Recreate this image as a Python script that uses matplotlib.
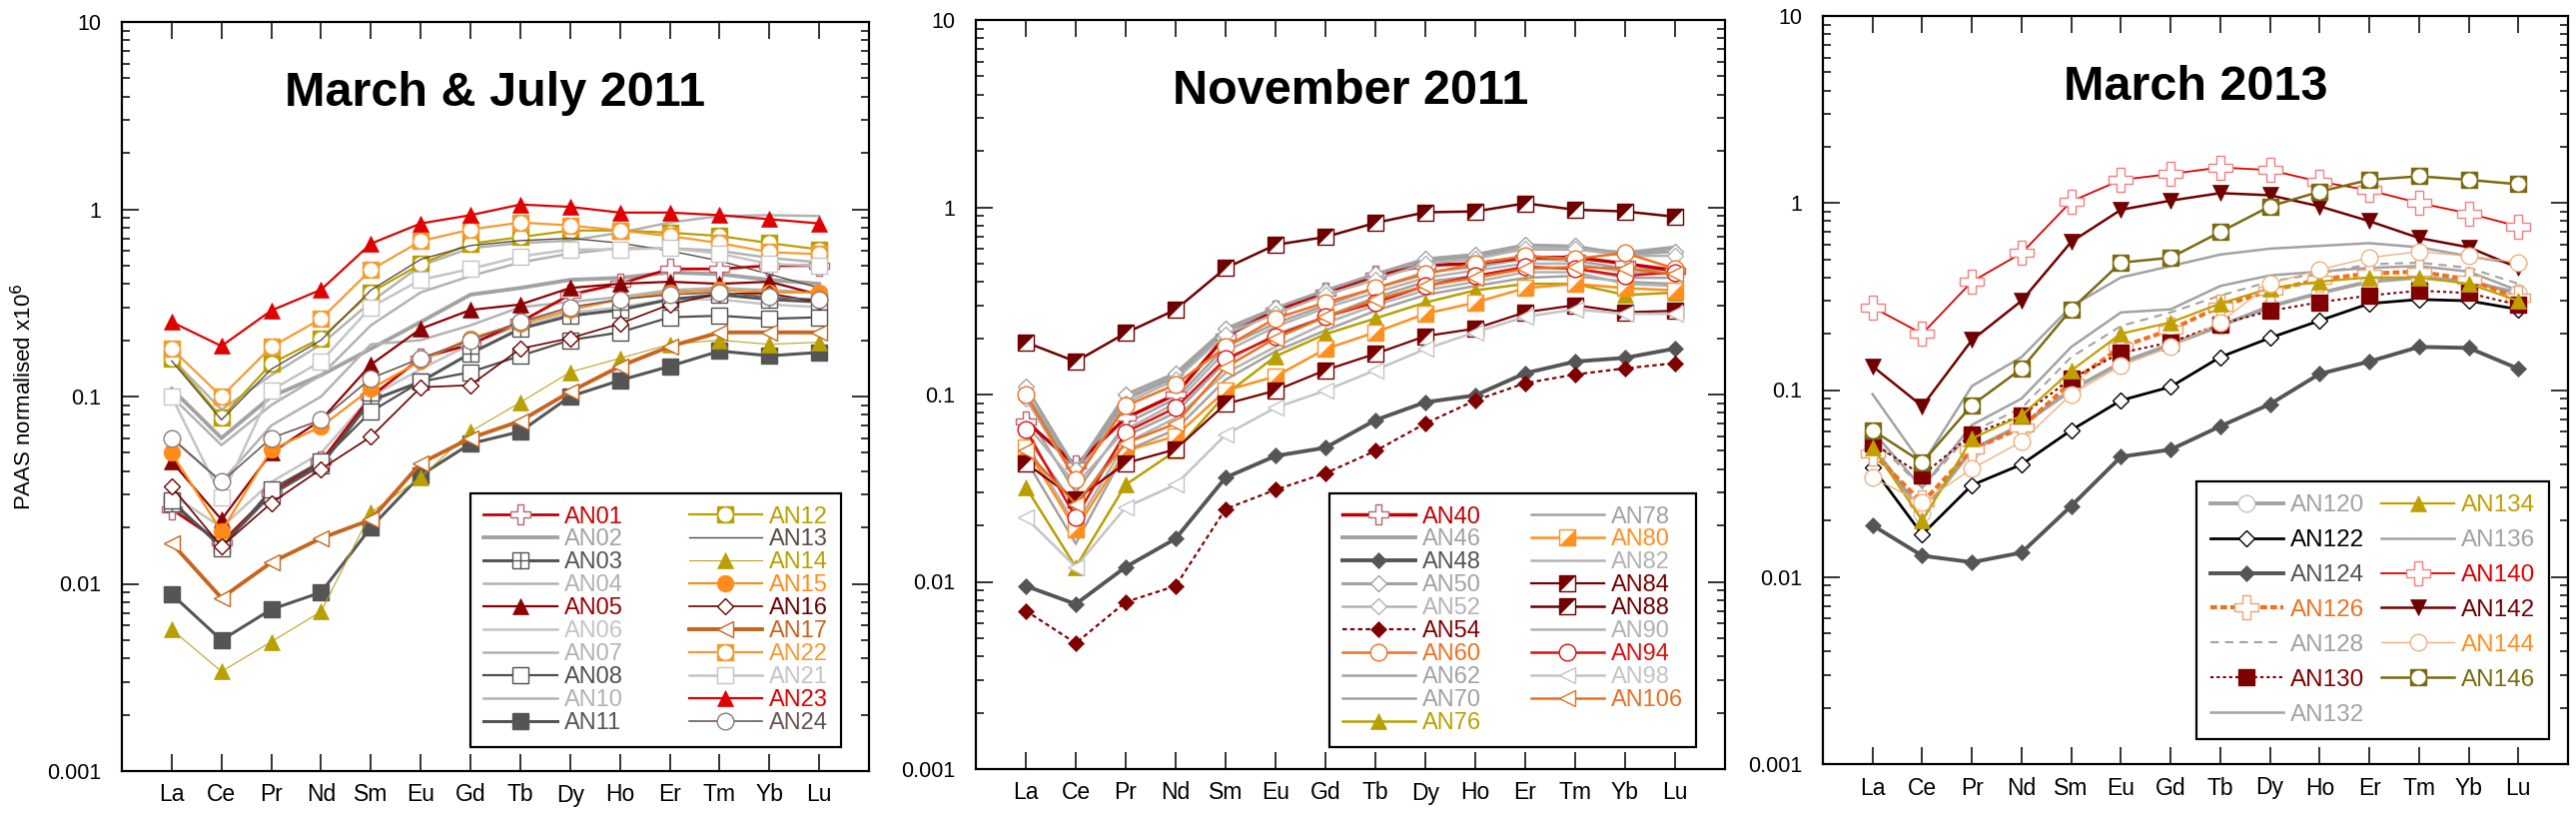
import numpy as np
import matplotlib
matplotlib.use("Agg")
import matplotlib.pyplot as plt
from matplotlib.ticker import FixedLocator, FixedFormatter, LogLocator, NullFormatter, NullLocator

plt.rcParams['font.family'] = ['Liberation Sans', 'DejaVu Sans']
plt.rcParams['axes.linewidth'] = 1.6

pierwiastki = ["La", "Ce", "Pr", "Nd", "Sm", "Eu", "Gd", "Tb", "Dy", "Ho", "Er", "Tm", "Yb", "Lu"]
tytuly = ["March & July 2011", "November 2011", "March 2013"]
os_y_wartosci = [0.001, 0.01, 0.1, 1, 10]
os_y_etykiety = ["0.001", "0.01", "0.1", "1", "10"]

# --- March & July 2011 ---
AN01 = [0.025, 0.0166, 0.0305, 0.045, 0.10, 0.16, 0.19, 0.25, 0.35, 0.40, 0.48, 0.48, 0.50, 0.50]
AN02 = [0.11, 0.06, 0.10, 0.13, 0.18, 0.25, 0.35, 0.38, 0.42, 0.43, 0.46, 0.45, 0.42, 0.40]
AN03 = [0.027, 0.016, 0.030, 0.043, 0.095, 0.12, 0.17, 0.23, 0.27, 0.29, 0.33, 0.35, 0.33, 0.32]
AN04 = [0.060, 0.035, 0.070, 0.10, 0.19, 0.20, 0.24, 0.30, 0.32, 0.34, 0.37, 0.38, 0.37, 0.36]
AN05 = [0.045, 0.022, 0.050, 0.075, 0.148, 0.23, 0.29, 0.31, 0.38, 0.40, 0.41, 0.40, 0.41, 0.35]
AN06 = [0.030, 0.020, 0.035, 0.050, 0.10, 0.14, 0.19, 0.24, 0.28, 0.30, 0.33, 0.33, 0.31, 0.30]
AN07 = [0.16, 0.085, 0.13, 0.19, 0.32, 0.50, 0.62, 0.66, 0.68, 0.75, 0.85, 0.92, 0.93, 0.92]
AN08 = [0.028, 0.0155, 0.032, 0.045, 0.083, 0.12, 0.135, 0.165, 0.20, 0.22, 0.265, 0.27, 0.26, 0.265]
AN10 = [0.10, 0.055, 0.09, 0.13, 0.24, 0.36, 0.44, 0.52, 0.58, 0.62, 0.62, 0.60, 0.55, 0.52]
AN11 = [0.0088, 0.0050, 0.0073, 0.0090, 0.020, 0.038, 0.056, 0.065, 0.10, 0.122, 0.145, 0.175, 0.165, 0.172]
AN12 = [0.159, 0.077, 0.150, 0.205, 0.36, 0.51, 0.655, 0.71, 0.77, 0.77, 0.75, 0.72, 0.66, 0.61]
AN13 = [0.155, 0.075, 0.14, 0.20, 0.37, 0.54, 0.64, 0.68, 0.70, 0.66, 0.60, 0.53, 0.45, 0.38]
AN14 = [0.0057, 0.0034, 0.0049, 0.0071, 0.024, 0.037, 0.065, 0.093, 0.135, 0.16, 0.19, 0.20, 0.19, 0.195]
AN15 = [0.050, 0.019, 0.052, 0.069, 0.11, 0.155, 0.205, 0.245, 0.29, 0.33, 0.36, 0.37, 0.36, 0.36]
AN16 = [0.033, 0.0158, 0.027, 0.041, 0.061, 0.112, 0.115, 0.18, 0.205, 0.245, 0.31, 0.355, 0.355, 0.32]
AN17 = [0.0165, 0.0084, 0.013, 0.0175, 0.022, 0.044, 0.060, 0.074, 0.106, 0.145, 0.185, 0.22, 0.22, 0.22]
AN22 = [0.18, 0.10, 0.184, 0.26, 0.475, 0.676, 0.78, 0.85, 0.82, 0.77, 0.72, 0.66, 0.59, 0.576]
AN21 = [0.10, 0.029, 0.108, 0.154, 0.30, 0.42, 0.48, 0.56, 0.61, 0.61, 0.62, 0.58, 0.51, 0.50]
AN23 = [0.25, 0.186, 0.288, 0.372, 0.655, 0.84, 0.93, 1.06, 1.03, 0.96, 0.96, 0.93, 0.885, 0.84]
AN24 = [0.060, 0.035, 0.060, 0.075, 0.125, 0.16, 0.20, 0.25, 0.30, 0.33, 0.35, 0.36, 0.34, 0.33]

# --- November 2011 ---
AN40 = [0.072, 0.042, 0.075, 0.10, 0.205, 0.28, 0.35, 0.43, 0.49, 0.50, 0.54, 0.54, 0.50, 0.46]
AN46 = [0.10, 0.038, 0.095, 0.125, 0.22, 0.28, 0.35, 0.43, 0.52, 0.55, 0.60, 0.60, 0.57, 0.61]
AN48 = [0.0095, 0.0076, 0.012, 0.017, 0.036, 0.047, 0.052, 0.073, 0.091, 0.099, 0.13, 0.15, 0.157, 0.176]
AN50 = [0.11, 0.040, 0.10, 0.13, 0.225, 0.29, 0.36, 0.44, 0.53, 0.56, 0.63, 0.62, 0.56, 0.58]
AN52 = [0.095, 0.035, 0.09, 0.12, 0.21, 0.27, 0.34, 0.41, 0.50, 0.53, 0.60, 0.60, 0.55, 0.55]
AN54 = [0.0070, 0.0047, 0.0078, 0.0095, 0.0245, 0.031, 0.038, 0.050, 0.070, 0.093, 0.115, 0.128, 0.138, 0.147]
AN60 = [0.10, 0.035, 0.087, 0.113, 0.18, 0.255, 0.31, 0.37, 0.44, 0.50, 0.55, 0.53, 0.57, 0.47]
AN62 = [0.060, 0.025, 0.060, 0.080, 0.15, 0.21, 0.26, 0.33, 0.40, 0.43, 0.48, 0.47, 0.42, 0.42]
AN70 = [0.045, 0.016, 0.050, 0.065, 0.12, 0.17, 0.22, 0.28, 0.34, 0.38, 0.42, 0.43, 0.40, 0.39]
AN76 = [0.032, 0.012, 0.033, 0.050, 0.10, 0.16, 0.21, 0.255, 0.31, 0.36, 0.39, 0.39, 0.34, 0.35]
AN78 = [0.080, 0.030, 0.070, 0.095, 0.18, 0.24, 0.30, 0.37, 0.45, 0.48, 0.53, 0.52, 0.47, 0.46]
AN80 = [0.052, 0.019, 0.050, 0.060, 0.105, 0.125, 0.175, 0.215, 0.27, 0.31, 0.37, 0.39, 0.37, 0.36]
AN82 = [0.055, 0.020, 0.055, 0.075, 0.13, 0.18, 0.24, 0.30, 0.36, 0.40, 0.45, 0.45, 0.39, 0.38]
AN84 = [0.043, 0.0275, 0.043, 0.051, 0.089, 0.105, 0.135, 0.165, 0.205, 0.225, 0.275, 0.30, 0.275, 0.28]
AN88 = [0.19, 0.15, 0.213, 0.284, 0.473, 0.63, 0.694, 0.825, 0.94, 0.95, 1.05, 0.97, 0.95, 0.89]
AN90 = [0.070, 0.033, 0.065, 0.090, 0.17, 0.23, 0.29, 0.35, 0.42, 0.46, 0.50, 0.50, 0.45, 0.44]
AN94 = [0.065, 0.022, 0.063, 0.085, 0.155, 0.205, 0.26, 0.31, 0.38, 0.43, 0.48, 0.47, 0.43, 0.45]
AN98 = [0.022, 0.012, 0.025, 0.033, 0.061, 0.085, 0.105, 0.135, 0.175, 0.215, 0.26, 0.285, 0.27, 0.27]
AN106 = [0.050, 0.026, 0.055, 0.070, 0.14, 0.20, 0.26, 0.32, 0.38, 0.42, 0.47, 0.48, 0.47, 0.44]

# --- March 2013 ---
AN120 = [0.050, 0.022, 0.048, 0.065, 0.10, 0.14, 0.175, 0.22, 0.28, 0.33, 0.38, 0.40, 0.38, 0.33]
AN122 = [0.0385, 0.0169, 0.031, 0.040, 0.061, 0.088, 0.104, 0.15, 0.19, 0.235, 0.29, 0.305, 0.30, 0.27]
AN124 = [0.0189, 0.013, 0.012, 0.0135, 0.024, 0.044, 0.048, 0.064, 0.084, 0.122, 0.142, 0.17, 0.168, 0.13]
AN126 = [0.046, 0.025, 0.048, 0.063, 0.11, 0.17, 0.21, 0.28, 0.34, 0.39, 0.42, 0.43, 0.39, 0.31]
AN128 = [0.055, 0.030, 0.060, 0.080, 0.15, 0.22, 0.26, 0.32, 0.38, 0.42, 0.47, 0.48, 0.45, 0.37]
AN130 = [0.052, 0.035, 0.058, 0.073, 0.115, 0.158, 0.18, 0.225, 0.265, 0.295, 0.32, 0.34, 0.33, 0.285]
AN132 = [0.060, 0.030, 0.065, 0.090, 0.17, 0.26, 0.27, 0.36, 0.41, 0.43, 0.45, 0.46, 0.43, 0.34]
AN134 = [0.0495, 0.020, 0.055, 0.073, 0.127, 0.20, 0.23, 0.29, 0.35, 0.38, 0.40, 0.40, 0.37, 0.30]
AN136 = [0.095, 0.040, 0.105, 0.15, 0.28, 0.40, 0.46, 0.53, 0.57, 0.59, 0.61, 0.58, 0.52, 0.47]
AN140 = [0.277, 0.20, 0.38, 0.54, 1.02, 1.33, 1.43, 1.55, 1.50, 1.30, 1.17, 1.00, 0.88, 0.75]
AN142 = [0.134, 0.082, 0.185, 0.30, 0.62, 0.92, 1.03, 1.13, 1.10, 0.96, 0.80, 0.65, 0.58, 0.45]
AN144 = [0.034, 0.025, 0.038, 0.053, 0.095, 0.135, 0.17, 0.23, 0.37, 0.44, 0.51, 0.55, 0.52, 0.48]
AN146 = [0.061, 0.041, 0.083, 0.13, 0.27, 0.48, 0.51, 0.70, 0.96, 1.15, 1.33, 1.39, 1.33, 1.26]

panel1 = [("AN01", AN01), ("AN02", AN02), ("AN03", AN03), ("AN04", AN04), ("AN05", AN05),
          ("AN06", AN06), ("AN07", AN07), ("AN08", AN08), ("AN10", AN10), ("AN11", AN11),
          ("AN12", AN12), ("AN13", AN13), ("AN14", AN14), ("AN15", AN15), ("AN16", AN16),
          ("AN17", AN17), ("AN22", AN22), ("AN21", AN21), ("AN23", AN23), ("AN24", AN24)]
panel2 = [("AN40", AN40), ("AN46", AN46), ("AN48", AN48), ("AN50", AN50), ("AN52", AN52),
          ("AN54", AN54), ("AN60", AN60), ("AN62", AN62), ("AN70", AN70), ("AN76", AN76),
          ("AN78", AN78), ("AN80", AN80), ("AN82", AN82), ("AN84", AN84), ("AN88", AN88),
          ("AN90", AN90), ("AN94", AN94), ("AN98", AN98), ("AN106", AN106)]
panel3 = [("AN120", AN120), ("AN122", AN122), ("AN124", AN124), ("AN126", AN126), ("AN128", AN128),
          ("AN130", AN130), ("AN132", AN132), ("AN134", AN134), ("AN136", AN136), ("AN140", AN140),
          ("AN142", AN142), ("AN144", AN144), ("AN146", AN146)]

# styl: kolor linii, grubosc, rodzaj linii, znacznik, kolor znacznika, kolor tekstu
G1, G2, G3 = "#a2a2a2", "#b2b2b2", "#c4c4c4"
styl = {
    "AN01": ("#c00000", 2.0, "-", "plus", "#c06070", "#cc0000"),
    "AN02": (G1, 2.8, "-", None, None, G1),
    "AN03": ("#555555", 2.2, "-", "sqplus", "#555555", "#555555"),
    "AN04": (G2, 1.8, "-", None, None, G2),
    "AN05": ("#8b0000", 1.6, "-", "tri", "#8b0000", "#990000"),
    "AN06": (G3, 1.8, "-", None, None, G3),
    "AN07": (G2, 1.8, "-", None, None, G2),
    "AN08": ("#505050", 1.6, "-", "sqopen", "#505050", "#505050"),
    "AN10": (G2, 1.8, "-", None, None, G2),
    "AN11": ("#555555", 2.2, "-", "sqfill", "#555555", "#555555"),
    "AN12": ("#b8a000", 1.6, "-", "sqcirc", "#b8a000", "#b8a000"),
    "AN13": ("#5a4a44", 1.0, "-", None, None, "#5a4a44"),
    "AN14": ("#c0a020", 0.8, "-", "tri", "#b8a000", "#b8a000"),
    "AN15": ("#ff8c1a", 1.6, "-", "circfill", "#ff8c1a", "#ff8c1a"),
    "AN16": ("#6e0000", 1.2, "-", "diaopen", "#6e0000", "#6e0000"),
    "AN17": ("#c8641e", 2.8, "-", "ltriopen", "#c8641e", "#c8641e"),
    "AN22": ("#f59a30", 1.6, "-", "sqcirc", "#f59a30", "#f59a30"),
    "AN21": (G3, 1.8, "-", "sqopen", G3, G3),
    "AN23": ("#e00000", 1.6, "-", "tri", "#e00000", "#e00000"),
    "AN24": ("#6b5b55", 1.2, "-", "circopen", "#8a7a75", "#645550"),

    "AN40": ("#c00000", 2.5, "-", "plus", "#c06070", "#c00000"),
    "AN46": (G1, 2.8, "-", None, None, G1),
    "AN48": ("#555555", 2.8, "-", "diafill", "#555555", "#555555"),
    "AN50": (G1, 2.2, "-", "diaopen", G1, G1),
    "AN52": (G2, 1.8, "-", "diaopen", G2, G2),
    "AN54": ("#800000", 1.6, (0, (2, 1.5)), "diafill", "#800000", "#800000"),
    "AN60": ("#f07020", 1.8, "-", "circopen", "#f07020", "#f07020"),
    "AN62": (G1, 1.8, "-", None, None, G1),
    "AN70": (G1, 1.8, "-", None, None, G1),
    "AN76": ("#b8a000", 1.8, "-", "tri", "#b8a000", "#b8a000"),
    "AN78": (G1, 1.8, "-", None, None, G1),
    "AN80": ("#ff9020", 1.8, "-", "halflr", "#ff9020", "#ff9020"),
    "AN82": (G2, 1.8, "-", None, None, G2),
    "AN84": ("#7a0000", 1.6, "-", "halful", "#7a0000", "#7a0000"),
    "AN88": ("#6e0000", 1.8, "-", "halful", "#6e0000", "#6e0000"),
    "AN90": (G2, 1.8, "-", None, None, G2),
    "AN94": ("#dd1010", 1.8, "-", "circopen", "#dd1010", "#dd1010"),
    "AN98": (G3, 1.8, "-", "ltriopen", G3, G3),
    "AN106": ("#e87020", 1.8, "-", "ltriopen", "#e87020", "#e87020"),

    "AN120": (G1, 2.8, "-", "circopen", G3, G1),
    "AN122": ("#000000", 2.0, "-", "diaopen", "#000000", "#000000"),
    "AN124": ("#555555", 2.8, "-", "diafill", "#555555", "#555555"),
    "AN126": ("#f07020", 3.0, (0, (1.6, 0.8)), "plus", "#f0a070", "#f07020"),
    "AN128": (G1, 1.5, (0, (4, 3)), None, None, G1),
    "AN130": ("#800000", 1.5, (0, (1.5, 1.5)), "sqfill", "#800000", "#800000"),
    "AN132": (G1, 1.8, "-", None, None, G1),
    "AN134": ("#c0a000", 1.6, "-", "tri", "#c0a000", "#c0a000"),
    "AN136": (G1, 1.8, "-", None, None, G1),
    "AN140": ("#e00000", 1.3, "-", "plus", "#f08080", "#e00000"),
    "AN142": ("#700000", 1.8, "-", "tridown", "#700000", "#700000"),
    "AN144": ("#f0b080", 1.0, "-", "circopen", "#f0b080", "#ff9020"),
    "AN146": ("#7a6a10", 1.8, "-", "sqcirc", "#7a6a10", "#7a6a10"),
}

TROJKAT_UL = [(-1, 1), (1, 1), (-1, -1), (-1, 1)]
TROJKAT_LR = [(1, -1), (1, 1), (-1, -1), (1, -1)]


def rysujSerie(ax, x, y, nazwa, duzy_plus=15):
    kolor, lw, ls, znak, mk, _ = styl[nazwa]
    z = 2 if znak is None and kolor in (G1, G2, G3) else 3
    baza = dict(color=kolor, lw=lw, ls=ls, zorder=z, solid_joinstyle="miter")
    if znak is None:
        h, = ax.plot(x, y, **baza)
        return h
    extra = None
    if znak == "plus":
        h, = ax.plot(x, y, marker="P", ms=duzy_plus, mfc="white", mec=mk, mew=1.0, **baza)
    elif znak == "sqplus":
        h, = ax.plot(x, y, marker="s", ms=11, mfc="white", mec=mk, mew=1.0, **baza)
        extra, = ax.plot(x, y, ls="none", marker="+", ms=11, mec=mk, mew=1.0, zorder=z)
    elif znak == "sqopen":
        h, = ax.plot(x, y, marker="s", ms=11, mfc="white", mec=mk, mew=1.0, **baza)
    elif znak == "sqfill":
        h, = ax.plot(x, y, marker="s", ms=11, mfc=mk, mec=mk, mew=1.0, **baza)
    elif znak == "tri":
        h, = ax.plot(x, y, marker="^", ms=11, mfc=mk, mec=mk, mew=0.5, **baza)
    elif znak == "tridown":
        h, = ax.plot(x, y, marker="v", ms=11, mfc=mk, mec=mk, mew=0.5, **baza)
    elif znak == "circfill":
        h, = ax.plot(x, y, marker="o", ms=12, mfc=mk, mec=mk, mew=0.5, **baza)
    elif znak == "circopen":
        h, = ax.plot(x, y, marker="o", ms=12, mfc="white", mec=mk, mew=1.0, **baza)
    elif znak == "diaopen":
        h, = ax.plot(x, y, marker="D", ms=8.5, mfc="white", mec=mk, mew=1.0, **baza)
    elif znak == "diafill":
        h, = ax.plot(x, y, marker="D", ms=8.5, mfc=mk, mec=mk, mew=0.5, **baza)
    elif znak == "ltriopen":
        h, = ax.plot(x, y, marker="<", ms=11, mfc="white", mec=mk, mew=1.0, **baza)
    elif znak == "sqcirc":
        h, = ax.plot(x, y, marker="s", ms=12, mfc=mk, mec=mk, mew=1.0, **baza)
        extra, = ax.plot(x, y, ls="none", marker="o", ms=11, mfc="white", mec=mk, mew=0.8, zorder=z)
    elif znak in ("halful", "halflr"):
        h, = ax.plot(x, y, marker="s", ms=11, mfc="white", mec=mk, mew=1.0, **baza)
        tri = TROJKAT_UL if znak == "halful" else TROJKAT_LR
        extra, = ax.plot(x, y, ls="none", marker=tri, ms=11, mfc=mk, mec=mk, mew=0.3, zorder=z)
    if extra is not None:
        return (h, extra)
    return h


def stworzPanel(ax, seria, tytul, legenda_poz, fs, odstep, kolumny_odstep, uchwyt_dl, duzy_plus=15):
    x = np.arange(len(pierwiastki))
    uchwyty = []
    etykiety = []
    for nazwa, wart in seria:
        uchwyty.append(rysujSerie(ax, x, wart, nazwa, duzy_plus))
        etykiety.append(nazwa)

    ax.set_yscale("log")
    ax.set_ylim(0.001, 10)
    ax.set_xlim(-1, 14)
    ax.yaxis.set_major_locator(FixedLocator(os_y_wartosci))
    ax.yaxis.set_major_formatter(FixedFormatter(os_y_etykiety))
    ax.yaxis.set_minor_locator(LogLocator(base=10, subs=np.arange(2, 10)))
    ax.yaxis.set_minor_formatter(NullFormatter())
    ax.set_xticks(x)
    ax.set_xticklabels(pierwiastki)
    ax.xaxis.set_minor_locator(NullLocator())
    ax.tick_params(which="major", direction="in", length=12, width=1.3,
                   top=True, right=True, labelsize=16.5, color="#222222")
    ax.tick_params(axis="y", which="major", pad=15, labelsize=15.5)
    ax.tick_params(axis="x", which="major", pad=9)
    ax.tick_params(which="minor", direction="in", length=6, width=1.1, right=True)

    ax.text(0.5, 0.888, tytul, transform=ax.transAxes, ha="center", va="baseline",
            fontsize=35, fontweight="bold", zorder=6)

    leg = ax.legend(uchwyty, etykiety, ncol=2, loc="lower right",
                    bbox_to_anchor=legenda_poz, bbox_transform=fig.transFigure,
                    borderaxespad=0, fontsize=fs, labelspacing=odstep,
                    handlelength=uchwyt_dl, handletextpad=0.3, columnspacing=kolumny_odstep,
                    borderpad=0.55, fancybox=False, framealpha=1, edgecolor="black",
                    numpoints=1)
    leg.get_frame().set_linewidth(1.6)
    leg.set_zorder(10)
    for txt, nazwa in zip(leg.get_texts(), etykiety):
        txt.set_color(styl[nazwa][5])


W, H = 2579, 819
fig = plt.figure(figsize=(W / 100, H / 100), dpi=100)

# pozycje osi w pikselach: lewo, gora, prawo, dol
ramki = [(122, 22, 870, 772), (977, 20, 1727, 770), (1825, 16, 2571, 765)]
osie = []
for (l, g, p, d) in ramki:
    osie.append(fig.add_axes([l / W, (H - d) / H, (p - l) / W, (d - g) / H]))

stworzPanel(osie[0], panel1, tytuly[0], (842 / W, (H - 748) / H), 17, 0.04, 2.8, 3.1)
stworzPanel(osie[1], panel2, tytuly[1], (1698 / W, (H - 748) / H), 17, 0.04, 2.1, 3.1)
stworzPanel(osie[2], panel3, tytuly[2], (2552 / W, (H - 740) / H), 17.5, 0.53, 0.7, 3.0, duzy_plus=17)

fig.text(24 / W, (H - 397) / H, "PAAS normalised x10$^6$", rotation=90,
         ha="center", va="center", fontsize=16)

fig.savefig("out.png", dpi=100)
